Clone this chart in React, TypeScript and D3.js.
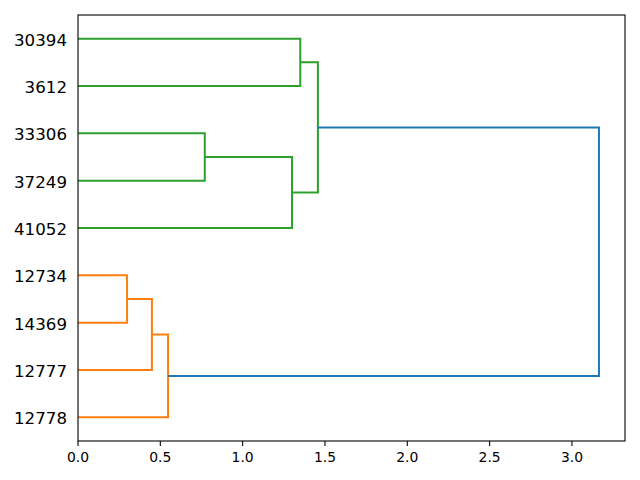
import React from "react";
import * as d3 from "d3";

// Leaf labels, bottom to top
const leafLabels = ["12778", "12777", "14369", "12734", "41052", "37249", "33306", "3612", "30394"];
// Merges: [child index a, child index b]; leaves are 0..8, merges 9+
const mergeChildren: [number, number][] = [
  [3, 2], // 9: 12734 + 14369
  [9, 1], // 10: + 12777
  [10, 0], // 11: + 12778
  [6, 5], // 12: 33306 + 37249
  [8, 7], // 13: 30394 + 3612
  [12, 4], // 14: + 41052
  [13, 14], // 15
  [15, 11], // 16: root
];
const mergeHeights = [0.298, 0.449, 0.547, 0.77, 1.35, 1.3, 1.457, 3.164];
const mergeColors = ["#ff7f0e", "#ff7f0e", "#ff7f0e", "#2ca02c", "#2ca02c", "#2ca02c", "#2ca02c", "#1f77b4"];
const xTicks = [0, 0.5, 1.0, 1.5, 2.0, 2.5, 3.0];

const W = 640, H = 480;
const M = { left: 78, right: 625, top: 15, bottom: 441 };

export default function App() {
  const maxH = d3.max(mergeHeights) as number;
  const x = d3.scaleLinear().domain([0, maxH * 1.05]).range([M.left, M.right]);
  const y = d3.scaleLinear().domain([0, leafLabels.length * 10]).range([M.bottom, M.top]);

  const n = leafLabels.length;
  const pos: number[] = leafLabels.map((_, i) => 5 + 10 * i);
  const hgt: number[] = leafLabels.map(() => 0);
  const paths: { d: string; color: string }[] = [];
  mergeChildren.forEach(([a, b], k) => {
    const h = mergeHeights[k];
    const ya = pos[a], yb = pos[b];
    const p = d3.path();
    p.moveTo(x(hgt[a]), y(ya));
    p.lineTo(x(h), y(ya));
    p.lineTo(x(h), y(yb));
    p.lineTo(x(hgt[b]), y(yb));
    paths.push({ d: p.toString(), color: mergeColors[k] });
    pos[n + k] = (ya + yb) / 2;
    hgt[n + k] = h;
  });

  const font = "DejaVu Sans, sans-serif";
  return (
    <svg width={W} height={H} style={{ display: "block", position: "absolute", left: 0, top: 0 }}>
      <rect width={W} height={H} fill="#fff" />
      {paths.map((p, i) => (
        <path key={i} d={p.d} fill="none" stroke={p.color} strokeWidth={2} />
      ))}
      <rect x={M.left} y={M.top} width={M.right - M.left} height={M.bottom - M.top} fill="none" stroke="#000" strokeWidth={1.1} />
      {xTicks.map((t) => (
        <g key={t} transform={`translate(${x(t)},${M.bottom})`}>
          <line y1={0} y2={4.9} stroke="#000" strokeWidth={1.1} />
          <text y={21} textAnchor="middle" fontFamily={font} fontSize={13.9} fill="#000">
            {t.toFixed(1)}
          </text>
        </g>
      ))}
      {leafLabels.map((l, i) => (
        <text key={l} x={67} y={y(5 + 10 * i) + 7} textAnchor="end" fontFamily={font} fontSize={16.67} fill="#000">
          {l}
        </text>
      ))}
    </svg>
  );
}
